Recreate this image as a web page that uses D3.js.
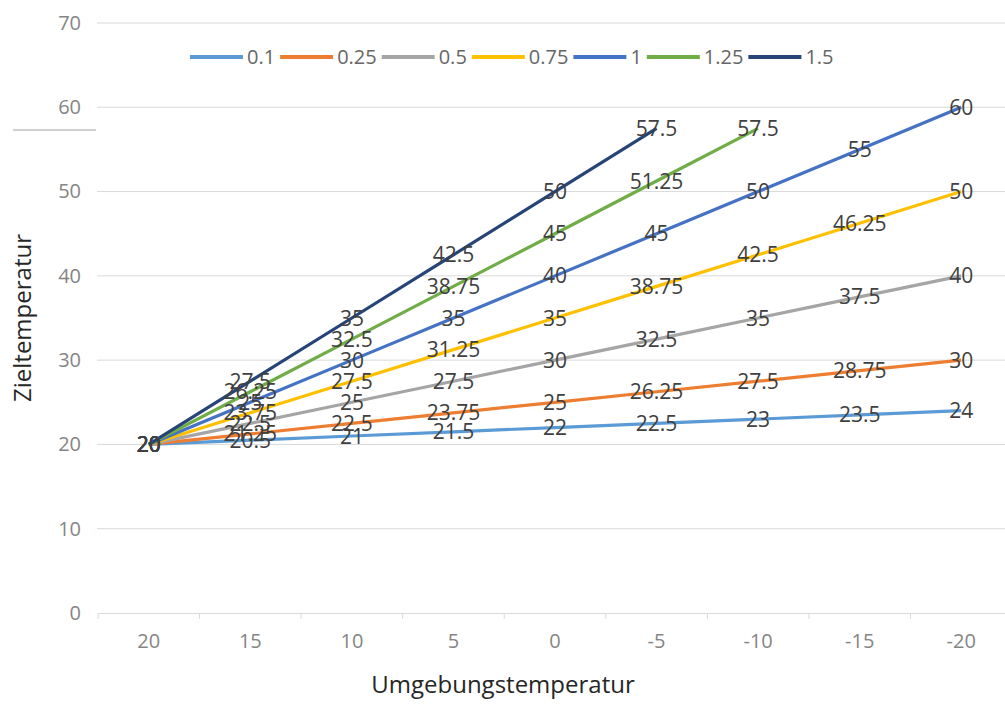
<!DOCTYPE html>
<html><head><meta charset="utf-8">
<script src="https://cdn.jsdelivr.net/npm/d3@7"></script>
<style>body{margin:0;background:#fff}svg{display:block}</style>
</head><body>
<script>
const categories = ["20","15","10","5","0","-5","-10","-15","-20"];
const seriesNames = ["0.1","0.25","0.5","0.75","1","1.25","1.5"];
const s01  = [20,20.5,21,21.5,22,22.5,23,23.5,24];
const s025 = [20,21.25,22.5,23.75,25,26.25,27.5,28.75,30];
const s05  = [20,22.5,25,27.5,30,32.5,35,37.5,40];
const s075 = [20,23.75,27.5,31.25,35,38.75,42.5,46.25,50];
const s1   = [20,25,30,35,40,45,50,55,60];
const s125 = [20,26.25,32.5,38.75,45,51.25,57.5];
const s15  = [20,27.5,35,42.5,50,57.5];
const yTicks = [0,10,20,30,40,50,60,70];
const colors = ["#5B9BD5","#ED7D31","#A5A5A5","#FFC000","#4472C4","#70AD47","#264478"];
const allSeries = [s01,s025,s05,s075,s1,s125,s15];

const W=1005,H=704;
const svg=d3.select("body").append("svg").attr("width",W).attr("height",H);
const x=d3.scaleBand().domain(categories).range([98,1012]);
const y=d3.scaleLinear().domain([0,70]).range([613,23]);
const font="'Open Sans', 'DejaVu Sans', sans-serif";

// gridlines
svg.append("g").selectAll("line").data(yTicks.filter(d=>d>0)).join("line")
  .attr("x1",97).attr("x2",W).attr("y1",d=>y(d)).attr("y2",d=>y(d))
  .attr("stroke","#d9d9d9").attr("stroke-width",1);
// stray short line
svg.append("line").attr("x1",13).attr("x2",96).attr("y1",130).attr("y2",130).attr("stroke","#a0a0a0").attr("stroke-width",1);

// y axis labels
const ya=svg.append("g").attr("transform","translate(97,0)")
  .call(d3.axisLeft(y).tickValues(yTicks).tickSize(0).tickPadding(16));
ya.select(".domain").remove();
ya.selectAll("text").attr("font-family",font).attr("font-size",20).attr("fill","#858585");

// x axis
const xa=svg.append("g").attr("transform","translate(0,613)")
  .call(d3.axisBottom(x).tickSize(0));
xa.select(".domain").attr("stroke","#d9d9d9");
xa.selectAll("text").attr("y",28).attr("dy","0.36em").attr("font-family",font).attr("font-size",20).attr("fill","#858585");
svg.append("g").selectAll("line").data(categories).join("line")
  .attr("x1",d=>x(d)).attr("x2",d=>x(d)).attr("y1",613).attr("y2",619)
  .attr("stroke","#d9d9d9");

// lines
const line=d3.line().x((d,i)=>x(categories[i])+x.bandwidth()/2).y(d=>y(d));
allSeries.forEach((s,k)=>{
  svg.append("path").datum(s).attr("d",line).attr("fill","none")
    .attr("stroke",colors[k]).attr("stroke-width",3.2).attr("stroke-linejoin","round");
});
// labels
allSeries.forEach((s,k)=>{
  svg.append("g").selectAll("text").data(s).join("text")
    .attr("x",(d,i)=>x(categories[i])+x.bandwidth()/2)
    .attr("y",d=>y(d)).attr("dy","0.36em").attr("text-anchor","middle")
    .attr("font-family",font).attr("font-size",21).attr("fill","#404040")
    .text(d=>d);
});

// legend
const lg=svg.append("g");
let lx=190;
seriesNames.forEach((n,k)=>{
  lg.append("line").attr("x1",lx).attr("x2",lx+53).attr("y1",57).attr("y2",57)
    .attr("stroke",colors[k]).attr("stroke-width",4);
  const t=lg.append("text").attr("x",lx+57).attr("y",57).attr("dy","0.36em")
    .attr("font-family",font).attr("font-size",20).attr("fill","#666").text(n);
  lx += 57 + t.node().getComputedTextLength() + 5;
});

// axis titles
svg.append("text").attr("x",503).attr("y",684).attr("dy","0.36em").attr("text-anchor","middle")
  .attr("font-family",font).attr("font-size",24).attr("fill","#262626").text("Umgebungstemperatur");
svg.append("text").attr("transform","translate(22,318) rotate(-90)").attr("dy","0.36em").attr("text-anchor","middle")
  .attr("font-family",font).attr("font-size",24).attr("fill","#262626").text("Zieltemperatur");
</script>
</body></html>
